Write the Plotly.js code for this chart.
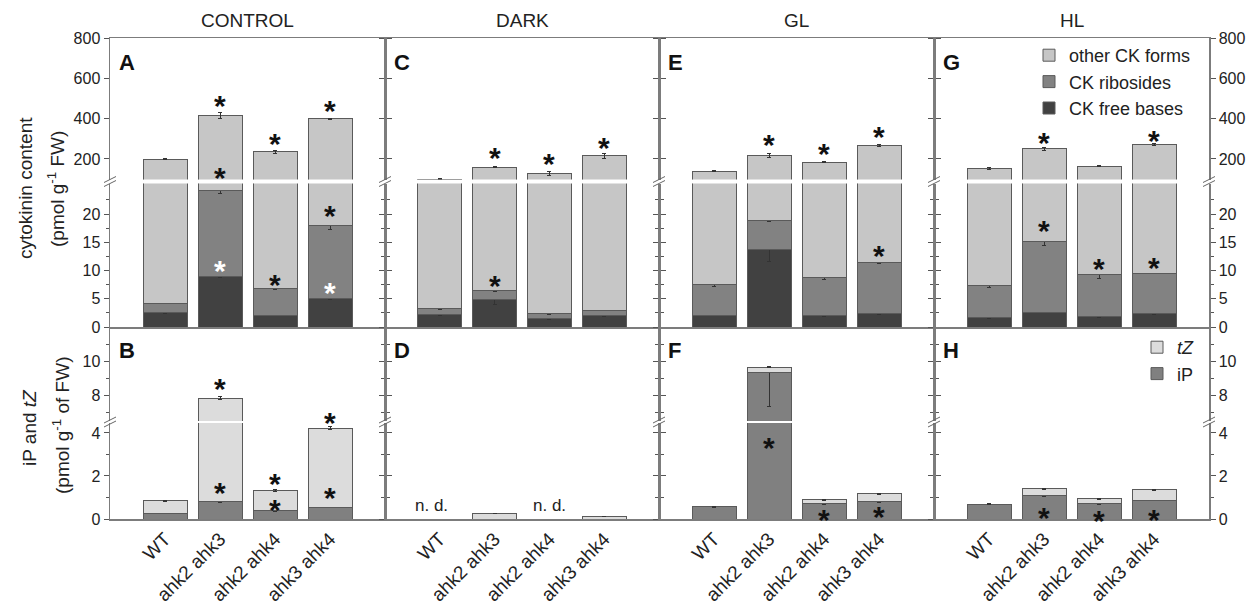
<!DOCTYPE html>
<html><head><meta charset="utf-8">
<script src="https://cdn.plot.ly/plotly-3.0.1.min.js"></script>
<style>html,body{margin:0;padding:0;background:#fff}#chart{width:1255px;height:611px}</style>
</head><body><div id="chart"></div>
<script>
// ---------------- DATA ----------------
const categories = ['WT', 'ahk2 ahk3', 'ahk2 ahk4', 'ahk3 ahk4'];
const conditions = ['CONTROL', 'DARK', 'GL', 'HL'];
const topLetters = ['A', 'C', 'E', 'G'];
const bottomLetters = ['B', 'D', 'F', 'H'];

// rows: CONTROL, DARK, GL, HL ; columns: categories  (pmol g-1 FW, stacked segments)
const freeBases     = [[2.6, 9.0, 2.1, 5.1], [2.25, 4.9, 1.5, 1.95], [2.1, 13.75, 1.95, 2.4], [1.6, 2.6, 1.8, 2.35]];
const freeBasesErr  = [[0.2, 0.2, 0.1, 0.2], [0.2, 0.9, 0.1, 0.1], [0.1, 2.15, 0.1, 0.1], [0.1, 0.1, 0.1, 0.1]];
const ribosides     = [[1.6, 15.2, 4.8, 12.8], [0.95, 1.5, 0.9, 1.05], [5.4, 5.05, 6.9, 9.1], [5.8, 12.6, 7.45, 7.15]];
const ribosidesErr  = [[0.1, 0.5, 0.2, 0.7], [0.1, 0.2, 0.1, 0.1], [0.4, 0.1, 0.5, 0.3], [0.4, 0.7, 0.6, 0.1]];
const otherForms    = [[193.8, 390.8, 229.1, 382.1], [96.8, 153.6, 127.6, 212.0], [131.5, 199.2, 175.2, 254.5], [147.6, 234.8, 155.8, 261.5]];
const otherFormsErr = [[2, 16, 8, 3], [1, 3, 10, 12], [3, 9, 3, 6], [5, 8, 2, 5]];

const iP          = [[0.26, 0.80, 0.38, 0.54], [null, null, null, null], [0.57, 9.37, 0.71, 0.83], [0.68, 1.07, 0.70, 0.88]];
const iPErrPlus   = [[0.02, 0.05, 0.02, 0.02], [null, null, null, null], [0.02, 0.25, 0.05, 0.05], [0.02, 0.04, 0.03, 0.03]];
const iPErrMinus  = [[0.02, 0.05, 0.02, 0.02], [null, null, null, null], [0.02, 2.0, 0.05, 0.05], [0.02, 0.04, 0.03, 0.03]];
const tZ          = [[0.59, 7.04, 0.95, 3.68], [null, 0.25, null, 0.12], [null, 0.29, 0.19, 0.34], [null, 0.33, 0.23, 0.48]];
const tZErr       = [[0.02, 0.08, 0.03, 0.08], [null, 0.01, null, 0.01], [null, 0.03, 0.02, 0.02], [null, 0.03, 0.02, 0.02]];

// axis ticks per section
const upperTopTicks = [200, 400, 600, 800];
const lowerTopTicks = [0, 5, 10, 15, 20];
const lowerTopMinor = [2.5, 7.5, 12.5, 17.5, 22.5];
const upperBotTicks = [8, 10];
const upperBotMinor = [7, 9, 11];
const lowerBotTicks = [0, 2, 4];
const lowerBotMinor = [1, 3];

// significance marks: [condition, section, category index, value, colour]
const stars = [
  [0,0,1,500,'#111'],[0,0,1,142,'#111'],[0,0,2,314,'#111'],[0,0,3,477,'#111'],
  [0,1,1,11.3,'#fff'],[0,1,2,8.8,'#111'],[0,1,3,20.9,'#111'],[0,1,3,7.4,'#fff'],
  [1,0,1,241,'#111'],[1,0,2,211,'#111'],[1,0,3,294,'#111'],[1,1,1,8.6,'#111'],
  [2,0,1,308,'#111'],[2,0,2,261,'#111'],[2,0,3,344,'#111'],[2,1,3,13.9,'#111'],
  [3,0,1,319,'#111'],[3,0,3,328,'#111'],[3,1,1,18.4,'#111'],[3,1,2,11.6,'#111'],[3,1,3,11.7,'#111'],
  [0,2,1,8.8,'#111'],[0,3,1,1.54,'#111'],[0,3,2,1.97,'#111'],[0,3,2,0.76,'#111'],[0,2,3,6.84,'#111'],[0,3,3,1.34,'#111'],
  [2,3,1,3.66,'#111'],[2,3,2,0.29,'#111'],[2,3,3,0.42,'#111'],
  [3,3,1,0.38,'#111'],[3,3,2,0.26,'#111'],[3,3,3,0.32,'#111']
];
// "not detected" labels: [condition, category position, value]
const notDetected = [[1, -0.15, 0.65], [1, 2, 0.65]];

// ---------------- STYLE / LAYOUT ----------------
const FONT = 'Liberation Sans, Arial, sans-serif';
const C_OTHER = '#c6c6c6', C_RIBO = '#828282', C_FREE = '#414141';
const C_TZ = '#dcdcdc', C_IP = '#808080', C_EDGE = '#5a5a5a', C_AXIS = '#7c7c7c';
const L = 110, R = 1209, T = 38, B = 519;
const fx = px => (px - L) / (R - L);
const fy = py => (B - py) / (B - T);
const colPx = [[110, 385], [385, 659], [659, 934], [934, 1209]];
const sections = [
  {top: 38,    bot: 179.5, range: [98.3, 800],  ticks: upperTopTicks, minor: null},
  {top: 183.5, bot: 327,   range: [0, 25.4],    ticks: lowerTopTicks, minor: lowerTopMinor},
  {top: 327,   bot: 421,   range: [6.49, 12.02], ticks: upperBotTicks, minor: upperBotMinor},
  {top: 423,   bot: 519,   range: [0, 4.46],    ticks: lowerBotTicks, minor: lowerBotMinor}
];

const layout = {
  width: 1255, height: 611,
  margin: {l: L, r: 1255 - R, t: T, b: 611 - B, pad: 0},
  paper_bgcolor: '#fff', plot_bgcolor: 'rgba(0,0,0,0)',
  barmode: 'stack', bargap: 0.2,
  font: {family: FONT, size: 16, color: '#222'},
  showlegend: true,
  legend: {x: fx(1029), xanchor: 'left', y: fy(37), yanchor: 'top', traceorder: 'reversed',
           bgcolor: 'rgba(0,0,0,0)', font: {size: 18, color: '#222'}, itemwidth: 30, tracegroupgap: 0},
  legend2: {x: fx(1137), xanchor: 'left', y: fy(329), yanchor: 'top', traceorder: 'reversed',
            bgcolor: 'rgba(0,0,0,0)', font: {size: 18, color: '#222'}, itemwidth: 30, tracegroupgap: 0},
  annotations: [], shapes: []
};

const data = [];
const ax = k => (k === 1 ? '' : String(k));

for (let s = 0; s < 4; s++) {
  const sec = sections[s];
  for (let c = 0; c < 4; c++) {
    const k = s * 4 + c + 1;
    const yax = {
      domain: [fy(sec.bot), fy(sec.top)], range: sec.range, anchor: 'x' + ax(k),
      side: c === 3 ? 'right' : 'left', showticklabels: c === 0 || c === 3,
      tickmode: 'array', tickvals: sec.ticks, ticks: 'outside', ticklen: 5, tickwidth: 1, tickcolor: '#555',
      showline: true, linecolor: C_AXIS, linewidth: 1.5, mirror: 'allticks',
      showgrid: false, zeroline: false, fixedrange: true,
      tickfont: {size: 16, color: '#222'}
    };
    if (sec.minor) yax.minor = {tickmode: 'array', tickvals: sec.minor, ticks: 'outside', ticklen: 3, tickcolor: '#555', showgrid: false};
    layout['yaxis' + ax(k)] = yax;
    layout['xaxis' + ax(k)] = {
      domain: [fx(colPx[c][0]), fx(colPx[c][1])], anchor: 'y' + ax(k),
      type: 'category', categoryorder: 'array', categoryarray: categories, range: [-1, 4],
      side: s === 0 ? 'top' : 'bottom',
      showline: s !== 2, linecolor: C_AXIS, linewidth: 1.5, mirror: false,
      ticks: '', showticklabels: s === 3, tickangle: -45,
      tickfont: {size: 19, color: '#222'},
      showgrid: false, zeroline: false, fixedrange: true
    };
    const xa = 'x' + ax(k), ya = 'y' + ax(k);
    const err = (arr) => ({type: 'data', array: arr, visible: true, color: '#333', thickness: 1, width: 2});
    const common = {type: 'bar', x: categories, xaxis: xa, yaxis: ya, width: 0.8, hoverinfo: 'skip'};
    if (s < 2) {
      data.push(Object.assign({}, common, {name: 'CK free bases', y: freeBases[c], error_y: err(freeBasesErr[c]),
        marker: {color: C_FREE, line: {color: C_EDGE, width: 1}}, legend: 'legend', legendgroup: 'free', showlegend: k === 1}));
      data.push(Object.assign({}, common, {name: 'CK ribosides', y: ribosides[c], error_y: err(ribosidesErr[c]),
        marker: {color: C_RIBO, line: {color: C_EDGE, width: 1}}, legend: 'legend', legendgroup: 'ribo', showlegend: k === 1}));
      data.push(Object.assign({}, common, {name: 'other CK forms', y: otherForms[c], error_y: err(otherFormsErr[c]),
        marker: {color: C_OTHER, line: {color: C_EDGE, width: 1}}, legend: 'legend', legendgroup: 'other', showlegend: k === 1}));
    } else {
      data.push(Object.assign({}, common, {name: 'iP', y: iP[c],
        error_y: {type: 'data', array: iPErrPlus[c], arrayminus: iPErrMinus[c], symmetric: false, visible: true, color: '#333', thickness: 1, width: 2},
        marker: {color: C_IP, line: {color: C_EDGE, width: 1}}, legend: 'legend2', legendgroup: 'ip', showlegend: k === 9}));
      data.push(Object.assign({}, common, {name: '<i>tZ</i>', y: tZ[c], error_y: err(tZErr[c]),
        marker: {color: C_TZ, line: {color: C_EDGE, width: 1}}, legend: 'legend2', legendgroup: 'tz', showlegend: k === 9}));
    }
  }
}

// column titles and panel letters
for (let c = 0; c < 4; c++) {
  layout.annotations.push({xref: 'paper', yref: 'paper', x: fx((colPx[c][0] + colPx[c][1]) / 2), y: fy(20),
    text: conditions[c], showarrow: false, font: {size: 19, color: '#222'}, xanchor: 'center', yanchor: 'middle'});
  layout.annotations.push({xref: 'paper', yref: 'paper', x: fx(colPx[c][0] + 7), y: fy(62),
    text: '<b>' + topLetters[c] + '</b>', showarrow: false, font: {size: 22, color: '#111'}, xanchor: 'left', yanchor: 'middle'});
  layout.annotations.push({xref: 'paper', yref: 'paper', x: fx(colPx[c][0] + 7), y: fy(350),
    text: '<b>' + bottomLetters[c] + '</b>', showarrow: false, font: {size: 22, color: '#111'}, xanchor: 'left', yanchor: 'middle'});
}
// y titles
layout.annotations.push({xref: 'paper', yref: 'paper', x: fx(25), y: fy(188), text: 'cytokinin content',
  textangle: -90, showarrow: false, font: {size: 19, color: '#222'}, xanchor: 'center', yanchor: 'middle'});
layout.annotations.push({xref: 'paper', yref: 'paper', x: fx(56), y: fy(189), text: '(pmol g<sup>-1</sup> FW)',
  textangle: -90, showarrow: false, font: {size: 19, color: '#222'}, xanchor: 'center', yanchor: 'middle'});
layout.annotations.push({xref: 'paper', yref: 'paper', x: fx(30), y: fy(428), text: 'iP and <i>tZ</i>',
  textangle: -90, showarrow: false, font: {size: 19, color: '#222'}, xanchor: 'center', yanchor: 'middle'});
layout.annotations.push({xref: 'paper', yref: 'paper', x: fx(61), y: fy(426), text: '(pmol g<sup>-1</sup> of FW)',
  textangle: -90, showarrow: false, font: {size: 19, color: '#222'}, xanchor: 'center', yanchor: 'middle'});

// stars
stars.forEach(([c, s, i, v, col]) => {
  const k = s * 4 + c + 1;
  layout.annotations.push({xref: 'x' + ax(k), yref: 'y' + ax(k), x: i, y: v, text: '<b>*</b>', showarrow: false,
    font: {size: 30, color: col, family: FONT}, xanchor: 'center', yanchor: 'middle', yshift: -7});
});
notDetected.forEach(([c, i, v]) => {
  const k = 3 * 4 + c + 1;
  layout.annotations.push({xref: 'x' + ax(k), yref: 'y' + ax(k), x: i, y: v, text: 'n. d.', showarrow: false,
    font: {size: 17, color: '#222'}, xanchor: 'center', yanchor: 'middle'});
});

// axis break marks
const breakY = [181.5, 422];
[110, 385, 659, 934, 1209].forEach(px => {
  breakY.forEach(py => {
    [-2, 2].forEach(off => {
      layout.shapes.push({type: 'line', xref: 'paper', yref: 'paper',
        x0: fx(px - 6), y0: fy(py + off + 3), x1: fx(px + 6), y1: fy(py + off - 3),
        line: {color: '#666', width: 1}});
    });
  });
});

Plotly.newPlot('chart', data, layout, {displayModeBar: false, staticPlot: true});
</script>
</body></html>
